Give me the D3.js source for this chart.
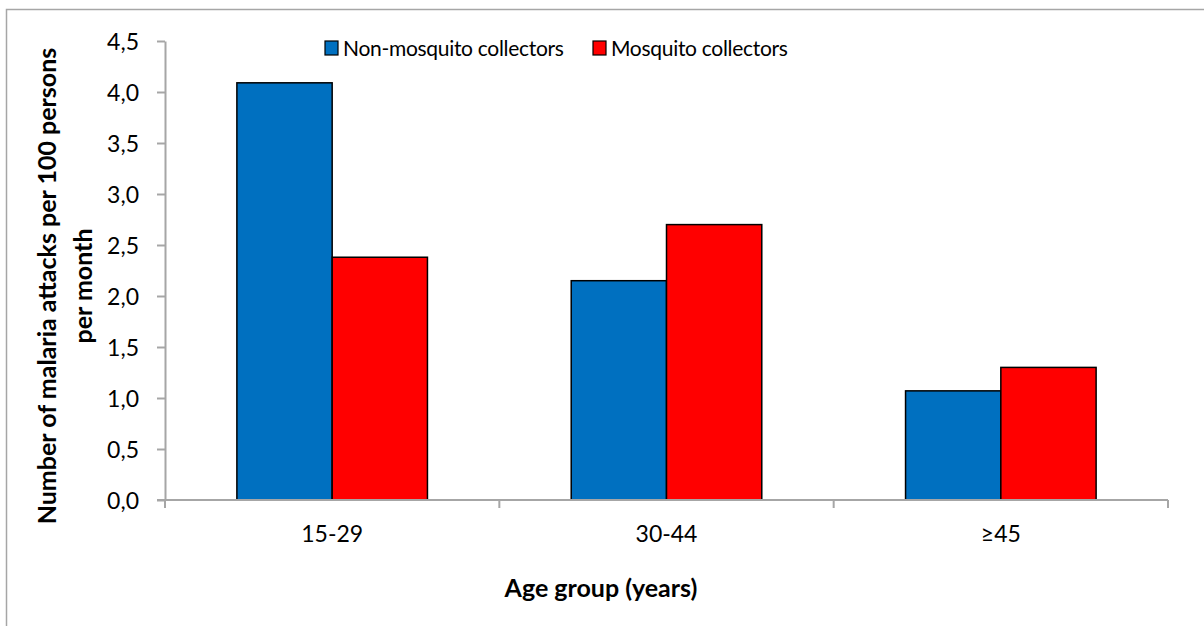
<!DOCTYPE html>
<html>
<head>
<meta charset="utf-8">
<script src="https://cdn.jsdelivr.net/npm/d3@7"></script>
<style>
  html, body { margin: 0; padding: 0; background: #fff; }
  svg { display: block; font-family: Lato, "Open Sans", sans-serif; }
  .axis path, .axis line { stroke: #a6a6a6; stroke-width: 2; }
  .axis text { fill: #000; font-size: 23px; font-family: Lato, "Open Sans", sans-serif; }
</style>
</head>
<body>
<div id="chart"></div>
<script>
const categories = ["15-29", "30-44", "\u226545"];
const seriesNames = ["Non-mosquito collectors", "Mosquito collectors"];
const nonCollectors = [4.09, 2.15, 1.07];
const collectors = [2.38, 2.70, 1.30];
const yTicks = [0, 0.5, 1, 1.5, 2, 2.5, 3, 3.5, 4, 4.5];
const colors = ["#0070c0", "#ff0000"];

const width = 1204, height = 626;
const margin = { top: 41, right: 36, bottom: 126, left: 165 };

const svg = d3.select("#chart").append("svg")
  .attr("width", width)
  .attr("height", height);

// chart frame (only left and top edges visible)
svg.append("rect")
  .attr("x", 6.5).attr("y", 9.5)
  .attr("width", width).attr("height", height)
  .attr("fill", "none")
  .attr("stroke", "#a6a6a6")
  .attr("stroke-width", 1.5);

const x0 = d3.scaleBand()
  .domain(categories)
  .range([margin.left, width - margin.right])
  .padding(0);

const x1 = d3.scaleBand()
  .domain(seriesNames)
  .range([x0.bandwidth() * 0.215, x0.bandwidth() * 0.785])
  .padding(0);

const y = d3.scaleLinear()
  .domain([0, 4.5])
  .range([height - margin.bottom, margin.top]);

const rows = categories.map((c, i) => ({
  cat: c,
  values: [
    { name: seriesNames[0], v: nonCollectors[i], color: colors[0] },
    { name: seriesNames[1], v: collectors[i], color: colors[1] }
  ]
}));

// bars
const groups = svg.append("g")
  .selectAll("g")
  .data(rows)
  .enter().append("g")
  .attr("transform", d => `translate(${x0(d.cat)},0)`);

groups.selectAll("rect")
  .data(d => d.values)
  .enter().append("rect")
  .attr("x", d => x1(d.name))
  .attr("y", d => y(d.v))
  .attr("width", x1.bandwidth())
  .attr("height", d => y(0) - y(d.v))
  .attr("fill", d => d.color)
  .attr("stroke", "#000")
  .attr("stroke-width", 1.5);

// y axis
const fmt = d => d3.format(".1f")(d).replace(".", ",");
svg.append("g")
  .attr("class", "axis")
  .attr("transform", `translate(${margin.left},0)`)
  .call(d3.axisLeft(y).tickValues(yTicks).tickSize(8).tickSizeOuter(0).tickFormat(fmt).tickPadding(18))
  .call(g => g.attr("font-family", null).attr("font-size", null))
  .call(g => g.selectAll("text").attr("dy", "0.36em"));

// x axis: labels centred, ticks at category boundaries
const xAxis = svg.append("g")
  .attr("class", "axis")
  .attr("transform", `translate(0,${y(0)})`)
  .call(d3.axisBottom(x0).tickSize(0).tickPadding(26))
  .call(g => g.attr("font-family", null).attr("font-size", null));
xAxis.select(".domain").remove();
xAxis.append("line")
  .attr("x1", margin.left - 8).attr("x2", width - margin.right)
  .attr("y1", 0).attr("y2", 0);
xAxis.selectAll(".bound")
  .data(categories.concat([null]))
  .enter().append("line")
  .attr("class", "bound")
  .attr("x1", (d, i) => margin.left + i * x0.step())
  .attr("x2", (d, i) => margin.left + i * x0.step())
  .attr("y1", 0).attr("y2", 8);

// axis titles
svg.append("text")
  .attr("x", 601).attr("y", 597)
  .attr("text-anchor", "middle")
  .attr("font-size", 25)
  .attr("font-weight", "bold")
  .text("Age group (years)");

const yTitle = svg.append("text")
  .attr("transform", "translate(56,286) rotate(-90)")
  .attr("text-anchor", "middle")
  .attr("font-size", 25)
  .attr("font-weight", "bold");
yTitle.append("tspan").attr("x", 0).attr("dy", 0).text("Number of malaria attacks per 100 persons");
yTitle.append("tspan").attr("x", 0).attr("dy", 36).text("per month");

// legend
const legendX = [325, 593];
const legend = svg.append("g")
  .selectAll("g")
  .data(seriesNames)
  .enter().append("g")
  .attr("transform", (d, i) => `translate(${legendX[i]},41)`);
legend.append("rect")
  .attr("width", 13).attr("height", 14)
  .attr("fill", (d, i) => colors[i])
  .attr("stroke", "#000")
  .attr("stroke-width", 1.2);
legend.append("text")
  .attr("x", 18).attr("y", 15)
  .attr("font-size", 21)
  .attr("letter-spacing", -0.3)
  .text(d => d);
</script>
</body>
</html>
